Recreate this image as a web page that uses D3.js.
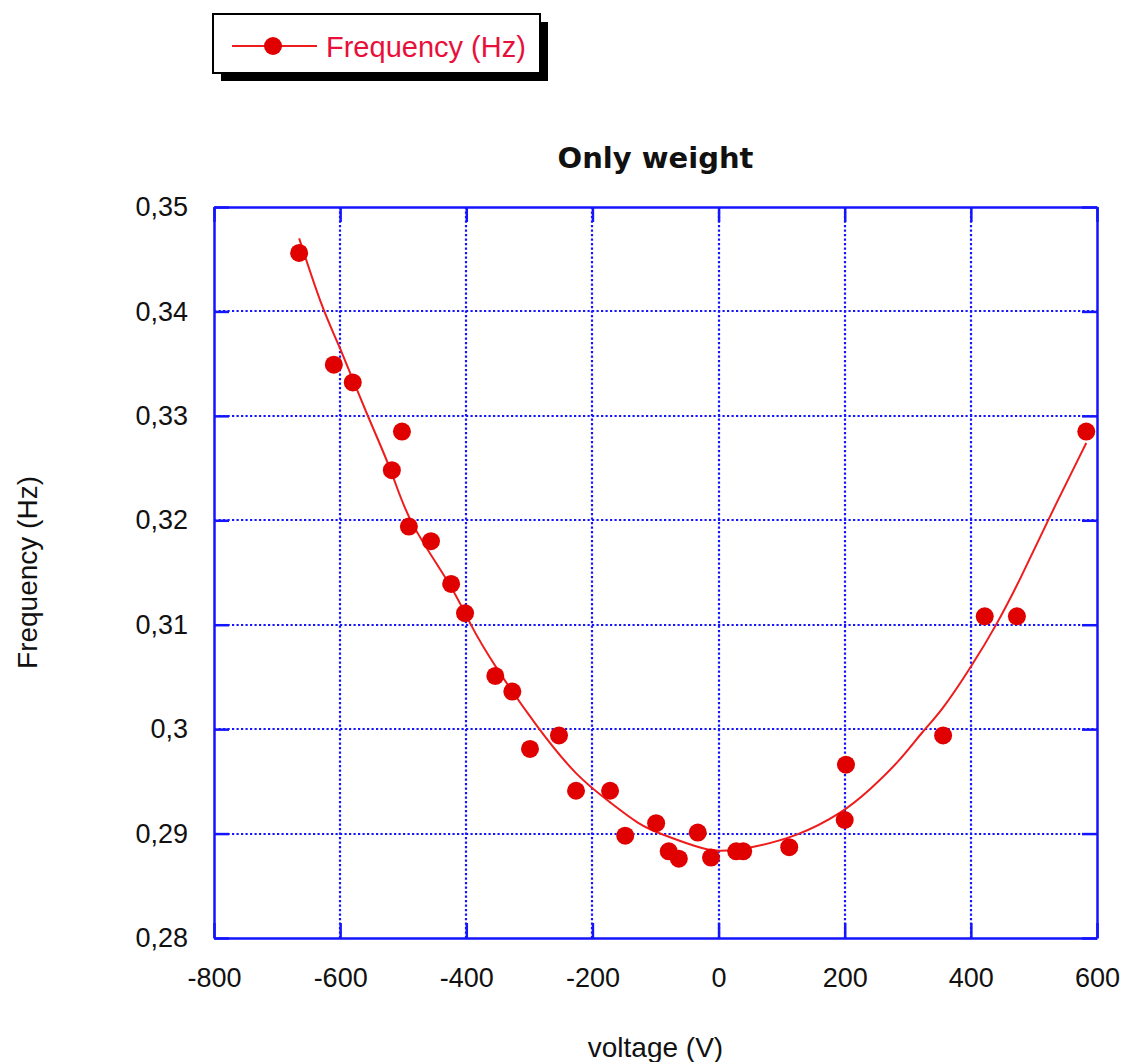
<!DOCTYPE html>
<html>
<head>
<meta charset="utf-8">
<script src="https://cdn.jsdelivr.net/npm/d3@7"></script>
<style>
  body { margin: 0; background: #fff; }
  svg { display: block; }
</style>
</head>
<body>
<svg id="chart" width="1125" height="1062"></svg>
<script>
// measured points: voltage (V) / frequency (Hz)
const voltage = [-665, -610, -580, -502, -518, -491, -456, -424, -402, -354,
  -327, -299, -253, -226, -172, -148, -99, -79, -63, -33,
  -12, 28, 39, 112, 200, 202, 356, 422, 473, 583]
const frequency = [0.3456, 0.3349, 0.3332, 0.3285, 0.3248, 0.3194, 0.3180, 0.3139, 0.3111, 0.3051,
  0.3036, 0.2981, 0.2994, 0.2941, 0.2941, 0.2898, 0.2910, 0.2883, 0.2876, 0.2901,
  0.2877, 0.2883, 0.2883, 0.2887, 0.2913, 0.2966, 0.2994, 0.3108, 0.3108, 0.3285]

// fitted curve
const fitVoltage = [-665, -627, -603, -557, -516, -494, -421, -394, -358, -286,
  -224, -172, -125, -93, -34, -2, 50, 124, 197, 240,
  288, 326, 351, 400, 441, 478, 522, 583]
const fitFrequency = [0.3470, 0.3400, 0.3370, 0.3300, 0.3245, 0.3200, 0.3136, 0.3100, 0.3063, 0.3000,
  0.2954, 0.2930, 0.2908, 0.2900, 0.2887, 0.2882, 0.2886, 0.2897, 0.2920, 0.2942,
  0.2970, 0.3000, 0.3015, 0.3059, 0.3100, 0.3143, 0.3200, 0.3274]

const xTicks = [-800, -600, -400, -200, 0, 200, 400, 600]
const yTicks = [0.28, 0.29, 0.30, 0.31, 0.32, 0.33, 0.34, 0.35]

const margin = {left: 214, top: 207, right: 28, bottom: 124}
const W = 1125, H = 1062
const w = W - margin.left - margin.right
const h = H - margin.top - margin.bottom

const blue = "#1414ff"
const red = "#e00000"
const font = "'Liberation Sans', Arial, sans-serif"

const loc = d3.formatLocale({decimal: ",", thousands: ".", grouping: [3], currency: ["", ""], minus: "-"})
const fmtY = loc.format(".2~f")
const fmtX = loc.format("d")

const x = d3.scaleLinear().domain([-800, 600]).range([0, w])
const y = d3.scaleLinear().domain([0.28, 0.35]).range([h, 0])

const svg = d3.select("#chart")
svg.append("rect").attr("width", W).attr("height", H).attr("fill", "#fff")

const g = svg.append("g").attr("transform", `translate(${margin.left},${margin.top})`)

// dotted grid
g.append("g").selectAll("line")
  .data(xTicks.slice(1, -1))
  .join("line")
    .attr("x1", d => Math.round(x(d))).attr("x2", d => Math.round(x(d)))
    .attr("y1", 0).attr("y2", h)
    .attr("stroke", blue).attr("stroke-width", 2.2)
    .attr("stroke-dasharray", "2.2,2.3")
g.append("g").selectAll("line")
  .data(yTicks.slice(1, -1))
  .join("line")
    .attr("y1", d => Math.round(y(d))).attr("y2", d => Math.round(y(d)))
    .attr("x1", 0).attr("x2", w)
    .attr("stroke", blue).attr("stroke-width", 2.2)
    .attr("stroke-dasharray", "2.2,2.3")

// axes, ticks pointing inwards
function styleAxis(sel) {
  sel.selectAll("path, line").attr("stroke", blue).attr("stroke-width", 2.5)
  sel.selectAll("text").attr("fill", "#111").style("font", `27px ${font}`)
}

g.append("g")
  .attr("transform", `translate(0,${h})`)
  .call(d3.axisBottom(x).tickValues(xTicks).tickFormat(fmtX).tickSizeInner(-15).tickSizeOuter(0).tickPadding(30))
  .call(styleAxis)

g.append("g")
  .call(d3.axisTop(x).tickValues(xTicks).tickFormat("").tickSizeInner(-15).tickSizeOuter(0))
  .call(styleAxis)

g.append("g")
  .call(d3.axisLeft(y).tickValues(yTicks).tickFormat(fmtY).tickSizeInner(-15).tickSizeOuter(0).tickPadding(26))
  .call(styleAxis)

g.append("g")
  .attr("transform", `translate(${w},0)`)
  .call(d3.axisRight(y).tickValues(yTicks).tickFormat("").tickSizeInner(-15).tickSizeOuter(0))
  .call(styleAxis)

// fit line
const fit = fitVoltage.map((v, i) => [v, fitFrequency[i]])
g.append("path")
  .datum(fit)
  .attr("fill", "none")
  .attr("stroke", "#ee1c1c")
  .attr("stroke-width", 2)
  .attr("d", d3.line().x(d => x(d[0])).y(d => y(d[1])).curve(d3.curveBasis))

// points
g.append("g").selectAll("circle")
  .data(voltage.map((v, i) => [v, frequency[i]]))
  .join("circle")
    .attr("cx", d => x(d[0]))
    .attr("cy", d => y(d[1]))
    .attr("r", 9)
    .attr("fill", red)

// title + axis labels
svg.append("text")
  .attr("x", margin.left + w / 2).attr("y", 168)
  .attr("text-anchor", "middle")
  .style("font", `bold 29px 'DejaVu Sans', Verdana, sans-serif`)
  .attr("fill", "#111")
  .text("Only weight")

svg.append("text")
  .attr("x", margin.left + w / 2).attr("y", 1057)
  .attr("text-anchor", "middle")
  .style("font", `28px ${font}`)
  .attr("fill", "#111")
  .text("voltage (V)")

svg.append("text")
  .attr("transform", `translate(37,${margin.top + h / 2}) rotate(-90)`)
  .attr("text-anchor", "middle")
  .style("font", `28px ${font}`)
  .attr("fill", "#111")
  .text("Frequency (Hz)")

// legend box with drop shadow
const lg = svg.append("g")
lg.append("rect").attr("x", 221).attr("y", 22).attr("width", 327).attr("height", 59).attr("fill", "#000")
lg.append("rect").attr("x", 213).attr("y", 14).attr("width", 327).attr("height", 59)
  .attr("fill", "#fff").attr("stroke", "#000").attr("stroke-width", 2)
lg.append("line").attr("x1", 232).attr("x2", 317).attr("y1", 46).attr("y2", 46)
  .attr("stroke", "#ee1c1c").attr("stroke-width", 2)
lg.append("circle").attr("cx", 273).attr("cy", 46).attr("r", 9).attr("fill", red)
lg.append("text").attr("x", 326).attr("y", 57)
  .style("font", `29px ${font}`)
  .attr("fill", "#e8103a")
  .text("Frequency (Hz)")
</script>
</body>
</html>
